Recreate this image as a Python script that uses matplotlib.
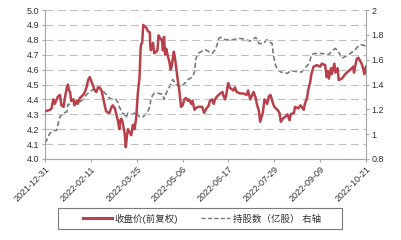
import numpy as np
import pandas as pd
import matplotlib
matplotlib.use("Agg")
import matplotlib.pyplot as plt
import matplotlib.dates as mdates
from matplotlib.lines import Line2D
from matplotlib.patches import Rectangle
from matplotlib.ticker import FormatStrFormatter

start = pd.Timestamp("2021-12-31")
end = pd.Timestamp("2022-10-21")

# closing price (left axis): day offset from 2021-12-31, value
price_days = [0, 4.6, 6, 7.6, 9, 10.6, 12, 13.7, 15, 17, 18, 20, 21, 22, 23, 24, 26, 27, 29, 30,
              32, 35, 36.5, 38, 39.5, 41, 42.5, 44, 45.6, 47, 48.6, 50, 51.7, 53, 55, 56, 58, 59, 61, 62,
              64, 65, 67, 68, 69, 70, 71, 73, 74, 75, 76, 77.5, 79, 80.5, 82, 83.6, 85, 86.6, 87.5, 88,
              89, 90, 91, 93, 94, 96, 96.4, 97, 99, 100, 102, 103, 104, 105.5, 107, 108, 109, 110, 111, 112.5,
              114, 115, 116, 117, 118, 119, 120, 121.6, 123, 124.6, 126, 127.7, 129, 131, 132, 134, 135, 137, 138, 140,
              144, 145.7, 148, 150, 151, 153, 154.5, 155.7, 157.6, 160.6, 162.5, 163.7, 165, 166, 167.7, 169, 172.5, 174, 175.5, 178.6,
              181.6, 184.7, 186, 188, 191, 193, 194, 196, 197, 199.5, 201, 203.5, 205, 206.5, 209, 210, 213, 214.7, 216, 217.7,
              221, 222, 224, 225, 228, 229, 232, 234, 237, 238, 240, 241, 243, 244, 246, 249, 252, 253.6, 256.6, 258,
              259, 260, 262, 262.7, 265, 266, 268, 269, 272, 275, 278, 281, 282.5, 283, 284, 285.5, 287, 290, 291.6, 292.5, 294]
price = [4.32, 4.33, 4.34, 4.40, 4.37, 4.40, 4.42, 4.43, 4.36, 4.35, 4.40, 4.48, 4.50, 4.46, 4.45, 4.39, 4.40, 4.36, 4.39, 4.37,
         4.41, 4.43, 4.45, 4.48, 4.53, 4.55, 4.52, 4.49, 4.46, 4.45, 4.48, 4.48, 4.46, 4.42, 4.35, 4.32, 4.31, 4.31, 4.35, 4.36,
         4.34, 4.31, 4.25, 4.20, 4.26, 4.27, 4.25, 4.17, 4.08, 4.15, 4.20, 4.18, 4.16, 4.23, 4.20, 4.28, 4.44, 4.55, 4.73, 4.77,
         4.78, 4.90, 4.89, 4.88, 4.86, 4.85, 4.76, 4.73, 4.78, 4.71, 4.72, 4.73, 4.83, 4.81, 4.80, 4.73, 4.82, 4.70, 4.74, 4.69,
         4.65, 4.60, 4.62, 4.67, 4.72, 4.68, 4.62, 4.53, 4.46, 4.35, 4.36, 4.40, 4.41, 4.39, 4.40, 4.37, 4.39, 4.33, 4.34, 4.35,
         4.35, 4.31, 4.34, 4.36, 4.39, 4.40, 4.37, 4.40, 4.42, 4.44, 4.45, 4.42, 4.40, 4.43, 4.51, 4.48, 4.46, 4.48, 4.45, 4.44,
         4.44, 4.43, 4.46, 4.40, 4.45, 4.41, 4.37, 4.32, 4.25, 4.31, 4.40, 4.37, 4.42, 4.43, 4.37, 4.35, 4.33, 4.31, 4.25, 4.27,
         4.29, 4.30, 4.26, 4.30, 4.31, 4.35, 4.34, 4.36, 4.33, 4.37, 4.41, 4.46, 4.52, 4.57, 4.62, 4.63, 4.62, 4.64, 4.63, 4.55,
         4.59, 4.54, 4.61, 4.57, 4.64, 4.58, 4.61, 4.53, 4.54, 4.57, 4.59, 4.61, 4.62, 4.58, 4.62, 4.67, 4.68, 4.64, 4.60, 4.57, 4.62]

# shares held (right axis, 100 million shares)
hold_days = [0, 1.5, 3, 4.6, 7.6, 10.6, 13.7, 17, 20, 21, 26, 32, 35, 38, 41, 47, 52, 55, 56, 59,
             62, 65, 67, 68, 71, 73, 74, 76, 79, 80.5, 83.6, 85, 86.6, 90, 93, 94, 96, 97, 100, 103,
             108, 109, 111, 114, 117, 120, 124.6, 128, 131, 135, 137, 138, 140, 144, 147, 153, 156, 158, 159, 161,
             165.5, 171.5, 178, 180, 184, 188, 193, 196, 200, 203, 208, 209, 210, 211, 213, 216, 222, 225, 235, 238,
             241, 243, 244, 247, 253.6, 259.7, 264, 266, 269, 272, 278, 284, 287, 290, 294]
holdings = [0.93, 0.95, 0.98, 1.01, 1.03, 1.03, 1.14, 1.17, 1.18, 1.24, 1.24, 1.26, 1.28, 1.32, 1.34, 1.38, 1.36, 1.33, 1.32, 1.29,
            1.28, 1.28, 1.25, 1.22, 1.17, 1.16, 1.13, 1.17, 1.16, 1.16, 1.18, 1.16, 1.14, 1.14, 1.17, 1.18, 1.22, 1.29, 1.33, 1.33,
            1.32, 1.28, 1.33, 1.38, 1.44, 1.40, 1.38, 1.41, 1.44, 1.46, 1.50, 1.60, 1.65, 1.67, 1.68, 1.65, 1.68, 1.73, 1.77, 1.78,
            1.76, 1.76, 1.77, 1.77, 1.76, 1.75, 1.78, 1.73, 1.73, 1.76, 1.73, 1.65, 1.60, 1.56, 1.52, 1.50, 1.49, 1.51, 1.50, 1.53,
            1.56, 1.60, 1.64, 1.65, 1.65, 1.64, 1.68, 1.69, 1.66, 1.61, 1.64, 1.68, 1.71, 1.72, 1.71]

labels = ["收盘价(前复权)", "持股数（亿股） 右轴"]

plt.rcParams['font.family'] = ['Liberation Sans', 'Noto Sans CJK SC', 'DejaVu Sans']

red = "#b8404a"
grey = "#7a7a7a"
axis_c = "#a6a6a6"

price_dates = start + pd.to_timedelta(price_days, unit="D")
hold_dates = start + pd.to_timedelta(hold_days, unit="D")

fig = plt.figure(figsize=(4.01, 2.40), dpi=100)
ax = fig.add_axes([45 / 401, 1 - 159 / 240, 321 / 401, 149 / 240])
ax2 = ax.twinx()

ax.plot(price_dates, price, color=red, lw=1.8, zorder=3)
ax2.plot(hold_dates, holdings, color=grey, lw=1.2, dashes=(3, 1.6))
ax.set_zorder(ax2.get_zorder() + 1)
ax.patch.set_visible(False)

ax.set_ylim(4.0, 5.0)
ax.set_yticks(np.arange(4.0, 5.01, 0.1))
ax.yaxis.set_major_formatter(FormatStrFormatter("%.1f"))
ax2.set_ylim(0.8, 2.0)
ax2.set_yticks([0.8, 1.0, 1.2, 1.4, 1.6, 1.8, 2.0])
ax2.yaxis.set_major_formatter(FormatStrFormatter("%g"))

ax.set_xlim(start, end)
ax.set_xticks(pd.date_range(start, end, freq="42D"))
ax.xaxis.set_major_formatter(mdates.DateFormatter("%Y-%m-%d"))
for t in ax.get_xticklabels():
    t.set_rotation(45)
    t.set_ha("right")
    t.set_rotation_mode("anchor")

ax.grid(axis="y", color="#bfbfbf", lw=0.8, dashes=(7, 4))
ax.set_axisbelow(True)

for a in (ax, ax2):
    a.spines["top"].set_visible(False)
    for side in ("left", "right", "bottom"):
        a.spines[side].set_color(axis_c)
        a.spines[side].set_linewidth(0.8)
    a.tick_params(colors=axis_c, labelcolor="#333333", labelsize=6.5, length=2.5, width=0.8, pad=1.5)
ax2.spines["left"].set_visible(False)
ax.spines["right"].set_visible(False)

# legend box below the plot
fig.add_artist(Rectangle((58 / 401, 1 - 229 / 240), 284 / 401, 21 / 240,
                         transform=fig.transFigure, fill=False, edgecolor=grey, lw=0.8))
handles = [Line2D([], [], color=red, lw=2.2),
           Line2D([], [], color=grey, lw=1.0, dashes=(3, 1.6))]
leg = fig.legend(handles, labels, loc="center", ncol=2, bbox_to_anchor=(202 / 401, 1 - 218.5 / 240),
                 frameon=False, fontsize=6.8, handlelength=3.1, handletextpad=0.3,
                 columnspacing=2.4, borderpad=0)
for t in leg.get_texts():
    t.set_color("#333333")

fig.savefig("out.png", dpi=100)
